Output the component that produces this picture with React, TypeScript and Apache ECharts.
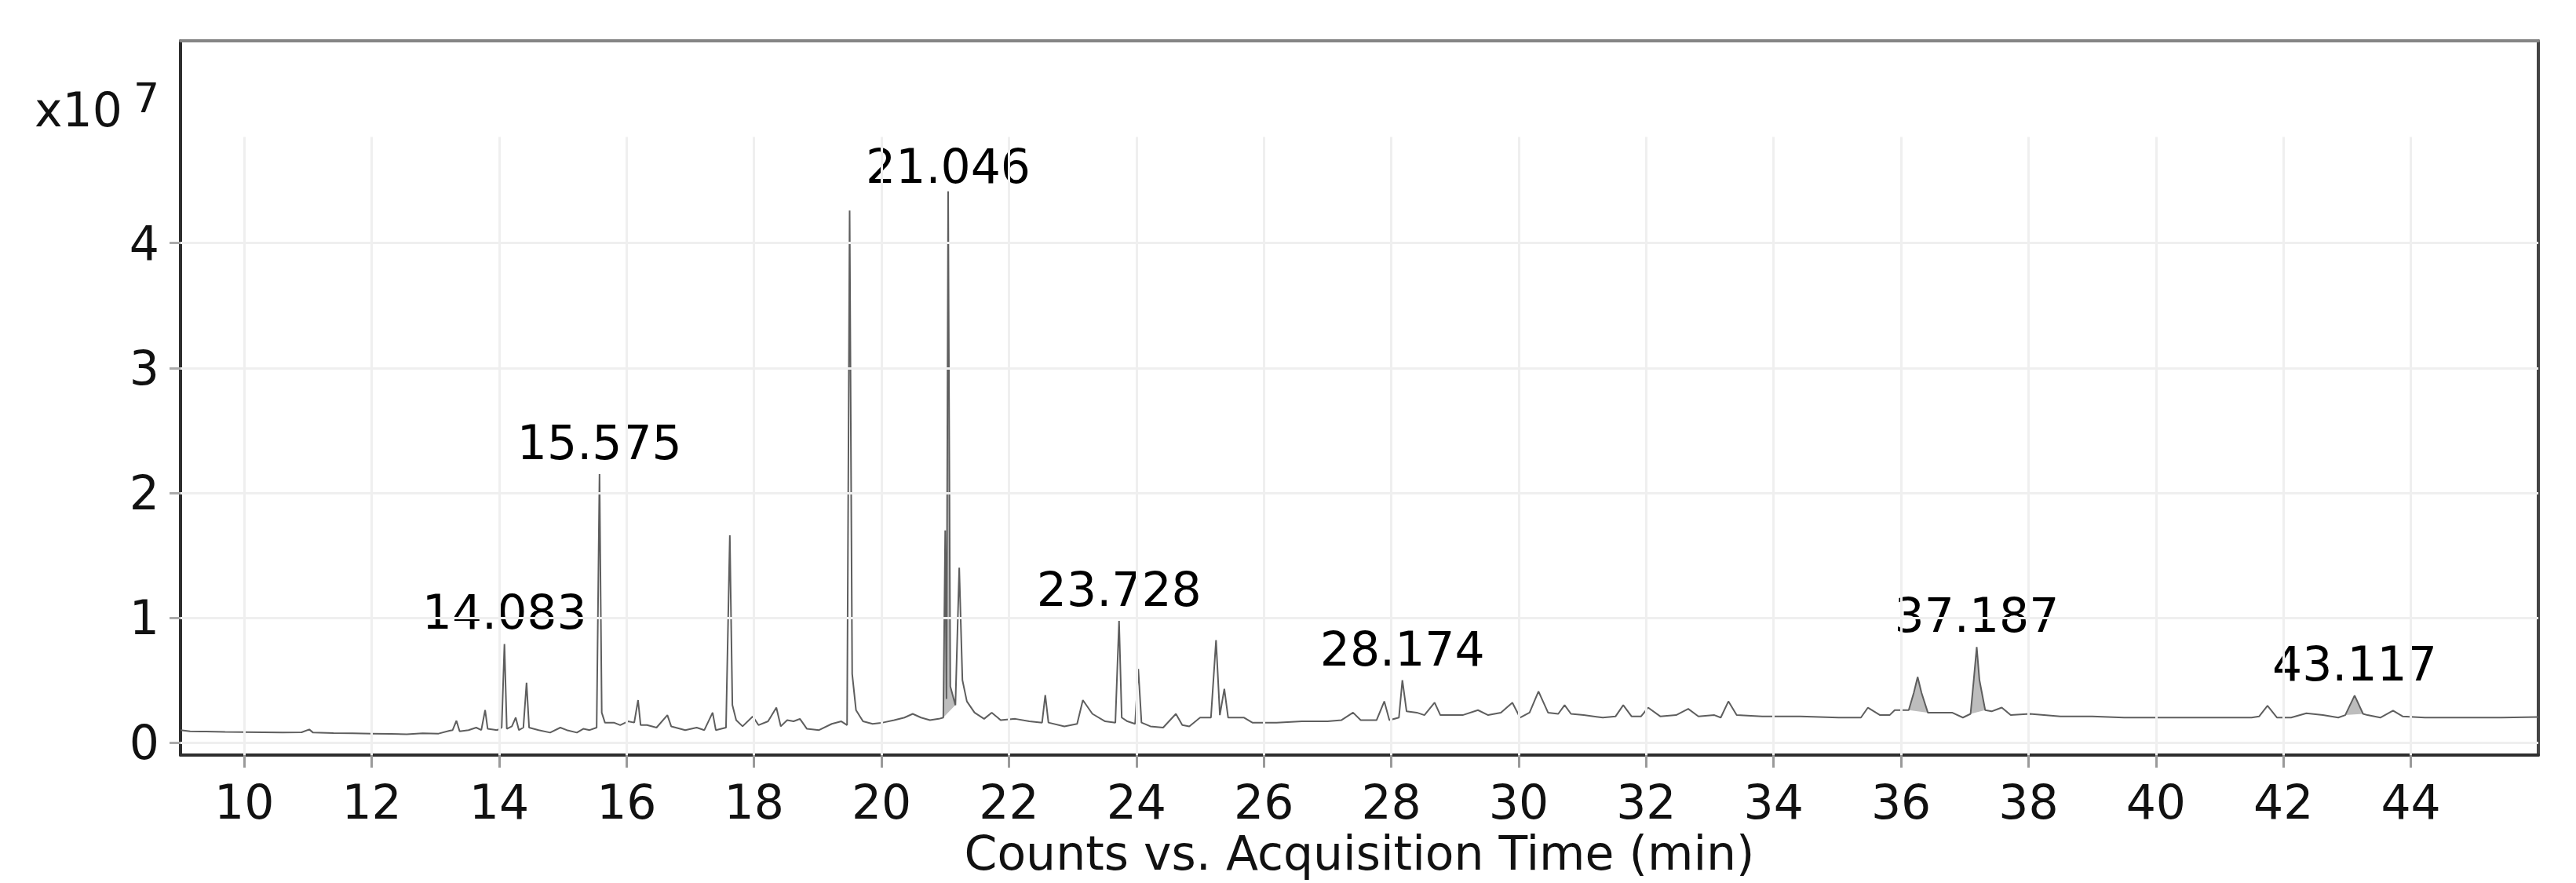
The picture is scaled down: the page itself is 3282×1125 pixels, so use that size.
import React, { useEffect, useRef } from "react";
import * as echarts from "echarts";

// Retention time (min) and abundance (counts x 10^7) of the chromatogram trace
const RT_MIN = [
  9.0, 9.15, 9.4, 9.7, 10.0, 10.3, 10.6, 10.9, 11.02, 11.08, 11.4, 11.7, 12.0, 12.3, 12.55, 12.8, 13.05, 13.22,
  13.27, 13.33, 13.38, 13.52, 13.64, 13.72, 13.78, 13.82, 13.97, 14.04, 14.083, 14.12, 14.2, 14.26, 14.31, 14.38,
  14.43, 14.47, 14.62, 14.8, 14.96, 15.06, 15.22, 15.32, 15.42, 15.53, 15.575, 15.61, 15.66, 15.8, 15.9, 16.02,
  16.12, 16.18, 16.22, 16.32, 16.47, 16.64, 16.7, 16.92, 17.1, 17.22, 17.35, 17.4, 17.56, 17.62, 17.66, 17.72,
  17.82, 17.98, 18.07, 18.22, 18.35, 18.42, 18.52, 18.62, 18.72, 18.83, 19.02, 19.22, 19.37, 19.46, 19.5, 19.54,
  19.6, 19.71, 19.86, 20.02, 20.2, 20.36, 20.49, 20.62, 20.76, 20.9, 20.97, 21.0, 21.02, 21.046, 21.08, 21.16,
  21.22, 21.27, 21.34, 21.46, 21.61, 21.73, 21.87, 22.1, 22.32, 22.52, 22.57, 22.62, 22.87, 23.07, 23.16, 23.31,
  23.51, 23.67, 23.728, 23.77, 23.86, 23.98, 24.03, 24.08, 24.22, 24.42, 24.62, 24.72, 24.83, 25.0, 25.17, 25.25,
  25.31, 25.38, 25.44, 25.57, 25.69, 25.82, 26.2, 26.6, 27.0, 27.22, 27.4, 27.52, 27.77, 27.89, 27.97, 28.12,
  28.174, 28.24, 28.4, 28.52, 28.68, 28.77, 29.12, 29.36, 29.52, 29.72, 29.9, 30.02, 30.17, 30.31, 30.46, 30.62,
  30.72, 30.82, 31.02, 31.32, 31.52, 31.64, 31.77, 31.92, 32.03, 32.22, 32.47, 32.66, 32.82, 33.07, 33.17, 33.29,
  33.42, 33.82, 34.42, 35.02, 35.37, 35.48, 35.67, 35.82, 35.9, 36.12, 36.2, 36.26, 36.32, 36.42, 36.62, 36.8,
  36.97, 37.09, 37.14, 37.187, 37.23, 37.32, 37.42, 37.58, 37.72, 38.02, 38.5, 39.0, 39.5, 40.0, 40.5, 41.0, 41.5,
  41.62, 41.75, 41.9, 42.12, 42.36, 42.62, 42.86, 42.97, 43.117, 43.25, 43.32, 43.52, 43.72, 43.87, 44.22, 44.82,
  45.42, 46.0,
];
const COUNTS_E7 = [
  0.1, 0.09, 0.088, 0.085, 0.084, 0.082, 0.08, 0.082, 0.105, 0.08, 0.076, 0.074, 0.072, 0.07, 0.066, 0.074, 0.072, 0.095,
  0.1, 0.175, 0.09, 0.1, 0.12, 0.1, 0.26, 0.11, 0.1, 0.12, 0.79, 0.11, 0.13, 0.2, 0.1, 0.12,
  0.48, 0.12, 0.1, 0.08, 0.12, 0.1, 0.08, 0.11, 0.1, 0.12, 2.15, 0.24, 0.16, 0.16, 0.14, 0.17,
  0.16, 0.34, 0.14, 0.14, 0.12, 0.22, 0.13, 0.1, 0.12, 0.1, 0.24, 0.1, 0.12, 1.66, 0.3, 0.18,
  0.13, 0.21, 0.14, 0.17, 0.28, 0.13, 0.18, 0.17, 0.19, 0.11, 0.1, 0.15, 0.17, 0.14, 4.26, 0.55,
  0.26, 0.17, 0.15, 0.16, 0.18, 0.2, 0.23, 0.2, 0.18, 0.19, 0.2, 1.7, 0.35, 4.415, 0.45, 0.3,
  1.4, 0.5, 0.33, 0.24, 0.19, 0.24, 0.18, 0.19, 0.17, 0.16, 0.38, 0.16, 0.13, 0.15, 0.34, 0.23,
  0.17, 0.16, 0.975, 0.2, 0.17, 0.15, 0.59, 0.16, 0.13, 0.12, 0.23, 0.14, 0.13, 0.2, 0.2, 0.82,
  0.22, 0.43, 0.2, 0.2, 0.2, 0.16, 0.16, 0.17, 0.17, 0.18, 0.24, 0.18, 0.18, 0.33, 0.18, 0.2,
  0.5, 0.25, 0.24, 0.22, 0.32, 0.22, 0.22, 0.26, 0.22, 0.24, 0.32, 0.2, 0.24, 0.41, 0.24, 0.23,
  0.3, 0.23, 0.22, 0.2, 0.21, 0.3, 0.21, 0.21, 0.28, 0.21, 0.22, 0.27, 0.21, 0.22, 0.2, 0.33,
  0.22, 0.21, 0.21, 0.2, 0.2, 0.28, 0.22, 0.22, 0.26, 0.26, 0.4, 0.525, 0.4, 0.24, 0.24, 0.24,
  0.2, 0.23, 0.5, 0.765, 0.5, 0.26, 0.25, 0.28, 0.22, 0.23, 0.21, 0.21, 0.2, 0.2, 0.2, 0.2, 0.2,
  0.21, 0.295, 0.2, 0.2, 0.235, 0.22, 0.2, 0.22, 0.377, 0.23, 0.22, 0.2, 0.256, 0.21, 0.2, 0.2,
  0.2, 0.205,
];

// Integrated (shaded) peaks: [rt, counts] outlines
const SHADE_21 = [[20.97, 0.2], [21.0, 1.7], [21.02, 0.35], [21.046, 4.415], [21.08, 0.45], [21.16, 0.3]];
const SHADE_36 = [[36.12, 0.26], [36.2, 0.4], [36.26, 0.525], [36.32, 0.4], [36.42, 0.24]];
const SHADE_37 = [[37.09, 0.23], [37.14, 0.5], [37.187, 0.765], [37.23, 0.5], [37.32, 0.26]];
const SHADE_43 = [[42.97, 0.22], [43.117, 0.377], [43.25, 0.23]];
const SHADED_PEAKS = [SHADE_21, SHADE_36, SHADE_37, SHADE_43];

// Annotated peaks
const PEAK_LABEL_RT = [14.083, 15.575, 21.046, 23.728, 28.174, 37.187, 43.117];
const PEAK_LABEL_TOP = [0.79, 2.15, 4.415, 0.975, 0.5, 0.765, 0.377];

const X_TICKS = [10, 12, 14, 16, 18, 20, 22, 24, 26, 28, 30, 32, 34, 36, 38, 40, 42, 44];
const Y_TICKS = [0, 1, 2, 3, 4];
const X_MIN = 9;
const X_MAX = 46;
const Y_MIN = -0.1;
const Y_MAX = 5.62;
const V_GRID_TOP = 4.85;

export default function App() {
  const ref = useRef<HTMLDivElement>(null);
  useEffect(() => {
    if (!ref.current) return;
    const chart = echarts.init(ref.current, null, { renderer: "svg" });
    const FONT = '"DejaVu Sans", Verdana, sans-serif';
    const trace = RT_MIN.map((t, i) => [t, COUNTS_E7[i]]);
    const frameAxis = (color: string) => ({
      axisLine: { show: true, onZero: false, lineStyle: { color, width: 4 } },
      axisTick: { show: false },
      axisLabel: { show: false },
      splitLine: { show: false },
    });
    chart.setOption({
      animation: false,
      backgroundColor: "#ffffff",
      textStyle: { fontFamily: FONT },
      grid: { left: 230, right: 48, top: 52, bottom: 163, show: false },
      xAxis: [
        {
          type: "value",
          min: X_MIN,
          max: X_MAX,
          position: "bottom",
          axisLine: { show: true, onZero: false, lineStyle: { color: "#2e2e2e", width: 4 } },
          axisTick: { show: true, customValues: X_TICKS, length: 16, lineStyle: { color: "#9a9a9a", width: 3 } },
          axisLabel: { show: true, customValues: X_TICKS, margin: 30, fontSize: 60, color: "#111", fontFamily: FONT },
          splitLine: { show: false },
          name: "Counts vs. Acquisition Time (min)",
          nameLocation: "middle",
          nameGap: 88,
          nameTextStyle: { fontSize: 60, color: "#111", fontFamily: FONT },
        },
        { type: "value", min: X_MIN, max: X_MAX, position: "top", ...frameAxis("#858585") },
      ],
      yAxis: [
        {
          type: "value",
          min: Y_MIN,
          max: Y_MAX,
          position: "left",
          axisLine: { show: true, onZero: false, lineStyle: { color: "#2e2e2e", width: 4 } },
          axisTick: { show: true, customValues: Y_TICKS, length: 14, lineStyle: { color: "#aaa", width: 3 } },
          axisLabel: { show: true, customValues: Y_TICKS, margin: 27, fontSize: 60, color: "#111", fontFamily: FONT },
          splitLine: { show: false },
        },
        { type: "value", min: Y_MIN, max: Y_MAX, position: "right", ...frameAxis("#444") },
      ],
      graphic: [
        {
          type: "text",
          x: 44,
          y: 140,
          style: { text: "x10", fontSize: 60, fontFamily: FONT, fill: "#111", align: "left", verticalAlign: "middle" },
        },
        {
          type: "text",
          x: 170,
          y: 125,
          style: { text: "7", fontSize: 52, fontFamily: FONT, fill: "#111", align: "left", verticalAlign: "middle" },
        },
      ],
      series: [
        {
          type: "line",
          xAxisIndex: 0,
          yAxisIndex: 0,
          data: [[X_MIN, Y_MIN]],
          symbol: "none",
          lineStyle: { opacity: 0 },
          silent: true,
          z: 1,
          markLine: {
            silent: true,
            symbol: ["none", "none"],
            label: { show: false },
            lineStyle: { color: "#efefef", width: 3, type: "solid" },
            data: [
              ...Y_TICKS.map((v) => ({ yAxis: v })),
              ...X_TICKS.map((t) => [{ coord: [t, Y_MIN] }, { coord: [t, V_GRID_TOP] }]),
            ],
          },
        },
        {
          type: "custom",
          xAxisIndex: 0,
          yAxisIndex: 0,
          z: 2,
          silent: true,
          data: SHADED_PEAKS.map((pk) => pk[Math.floor(pk.length / 2)]),
          encode: { x: 0, y: 1 },
          renderItem: (params: any, api: any) => {
            const pk = SHADED_PEAKS[params.dataIndex];
            return {
              type: "polygon",
              shape: { points: pk.map((p) => api.coord(p)) },
              style: { fill: "#bdbdbd", stroke: "none" },
            };
          },
        },
        {
          type: "line",
          xAxisIndex: 0,
          yAxisIndex: 0,
          data: trace,
          symbol: "none",
          showSymbol: false,
          lineStyle: { color: "#5e5e5e", width: 2 },
          z: 3,
        },
        {
          type: "scatter",
          xAxisIndex: 0,
          yAxisIndex: 0,
          z: 4,
          symbolSize: 0,
          itemStyle: { opacity: 1 },
          data: PEAK_LABEL_RT.map((t, i) => ({
            value: [t, PEAK_LABEL_TOP[i]],
            label: { distance: i === 2 ? 2 : 10 },
          })),
          label: {
            show: true,
            position: "top",
            formatter: (p: any) => PEAK_LABEL_RT[p.dataIndex].toFixed(3),
            fontSize: 60,
            color: "#000",
            opacity: 1,
            textBorderWidth: 0,
            fontFamily: FONT,
          },
        },
      ],
    });
    return () => chart.dispose();
  }, []);
  return <div ref={ref} style={{ position: "fixed", left: 0, top: 0, width: 3282, height: 1125 }} />;
}
